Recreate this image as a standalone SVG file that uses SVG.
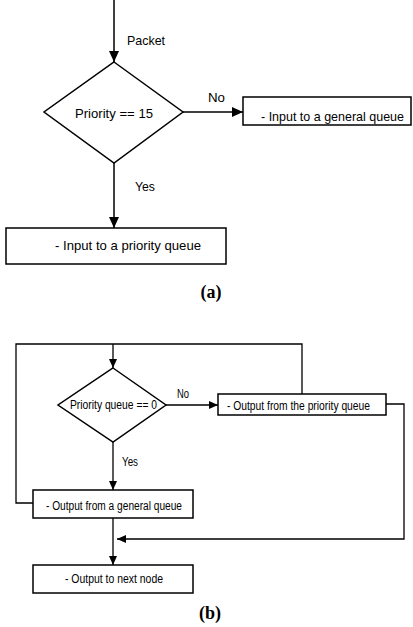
<svg xmlns="http://www.w3.org/2000/svg" width="413" height="627" viewBox="0 0 413 627">
<style>
.ln{fill:none;stroke:#000;stroke-width:1.5}
.lb{fill:none;stroke:#000;stroke-width:1.3}
.bx{fill:#fff;stroke:#000;stroke-width:1.5}
.t{font-family:"Liberation Sans",Arial,sans-serif;font-size:13.5px;fill:#000}
.s{font-family:"Liberation Sans",Arial,sans-serif;font-size:12px;fill:#000}
.cap{font-family:"Liberation Serif","Times New Roman",serif;font-size:18px;font-weight:bold;fill:#000;text-anchor:middle}
</style>
<defs>
<marker id="ah" markerUnits="userSpaceOnUse" markerWidth="12" markerHeight="10" refX="11" refY="5" orient="auto">
<path d="M0,0 L11,5 L0,10 Z" fill="#000"/>
</marker>
<marker id="ahs" markerUnits="userSpaceOnUse" markerWidth="10" markerHeight="8" refX="9" refY="4" orient="auto">
<path d="M0,0 L9,4 L0,8 Z" fill="#000"/>
</marker>
</defs>

<g id="connectors">
<line class="ln" x1="114" y1="0" x2="114" y2="62" marker-end="url(#ah)"/>
<line class="ln" x1="183" y1="112" x2="243" y2="112" marker-end="url(#ah)"/>
<line class="ln" x1="114" y1="163" x2="114" y2="228" marker-end="url(#ah)"/>

<polyline class="lb" points="33,503 16,503 16,344 302,344 302,394"/>
<line class="lb" x1="113" y1="344" x2="113" y2="368" marker-end="url(#ahs)"/>
<line class="lb" x1="166" y1="405" x2="218" y2="405" marker-end="url(#ahs)"/>
<line class="lb" x1="113" y1="442" x2="113" y2="490" marker-end="url(#ahs)"/>
<polyline class="lb" points="386,404 404,404 404,539 117,539" marker-end="url(#ahs)"/>
<line class="lb" x1="113" y1="518" x2="113" y2="565" marker-end="url(#ahs)"/>
</g>

<g id="label-packet"><text class="t" x="127" y="45" textLength="38" lengthAdjust="spacingAndGlyphs">Packet</text></g>
<g id="label-no-a"><text class="t" x="208" y="102" textLength="17" lengthAdjust="spacingAndGlyphs">No</text></g>
<g id="label-yes-a"><text class="t" x="135" y="191" textLength="20" lengthAdjust="spacingAndGlyphs">Yes</text></g>

<g id="dec-a">
<polygon class="bx" points="114,62 183,112 114,163 44,112"/>
<text class="t" x="75" y="118" textLength="78" lengthAdjust="spacingAndGlyphs">Priority == 15</text>
</g>

<g id="box-general-in">
<rect class="bx" x="243" y="97" width="168" height="28"/>
<text class="t" x="261" y="121" textLength="143" lengthAdjust="spacingAndGlyphs">- Input to a general queue</text>
</g>

<g id="box-priority-in">
<rect class="bx" x="6" y="228" width="220" height="36"/>
<text class="t" x="55" y="250" textLength="146" lengthAdjust="spacingAndGlyphs">- Input to a priority queue</text>
</g>

<g id="caption-a"><text class="cap" x="211" y="298">(a)</text></g>

<g id="label-no-b"><text class="s" x="177" y="398" textLength="12" lengthAdjust="spacingAndGlyphs">No</text></g>
<g id="label-yes-b"><text class="s" x="122" y="466" textLength="16" lengthAdjust="spacingAndGlyphs">Yes</text></g>

<g id="dec-b">
<polygon class="bx" points="113,368 166,405 113,442 58,405"/>
<text class="s" x="70" y="409" textLength="87" lengthAdjust="spacingAndGlyphs">Priority queue == 0</text>
</g>

<g id="box-priority-out">
<rect class="bx" x="218" y="394" width="168" height="21"/>
<text class="s" x="227" y="410" textLength="143" lengthAdjust="spacingAndGlyphs">- Output from the priority queue</text>
</g>

<g id="box-general-out">
<rect class="bx" x="33" y="490" width="160" height="28"/>
<text class="s" x="46" y="510" textLength="136" lengthAdjust="spacingAndGlyphs">- Output from a general queue</text>
</g>

<g id="box-next">
<rect class="bx" x="33" y="565" width="160" height="28"/>
<text class="s" x="65" y="583" textLength="98" lengthAdjust="spacingAndGlyphs">- Output to next node</text>
</g>

<g id="caption-b"><text class="cap" x="210" y="619">(b)</text></g>
</svg>
